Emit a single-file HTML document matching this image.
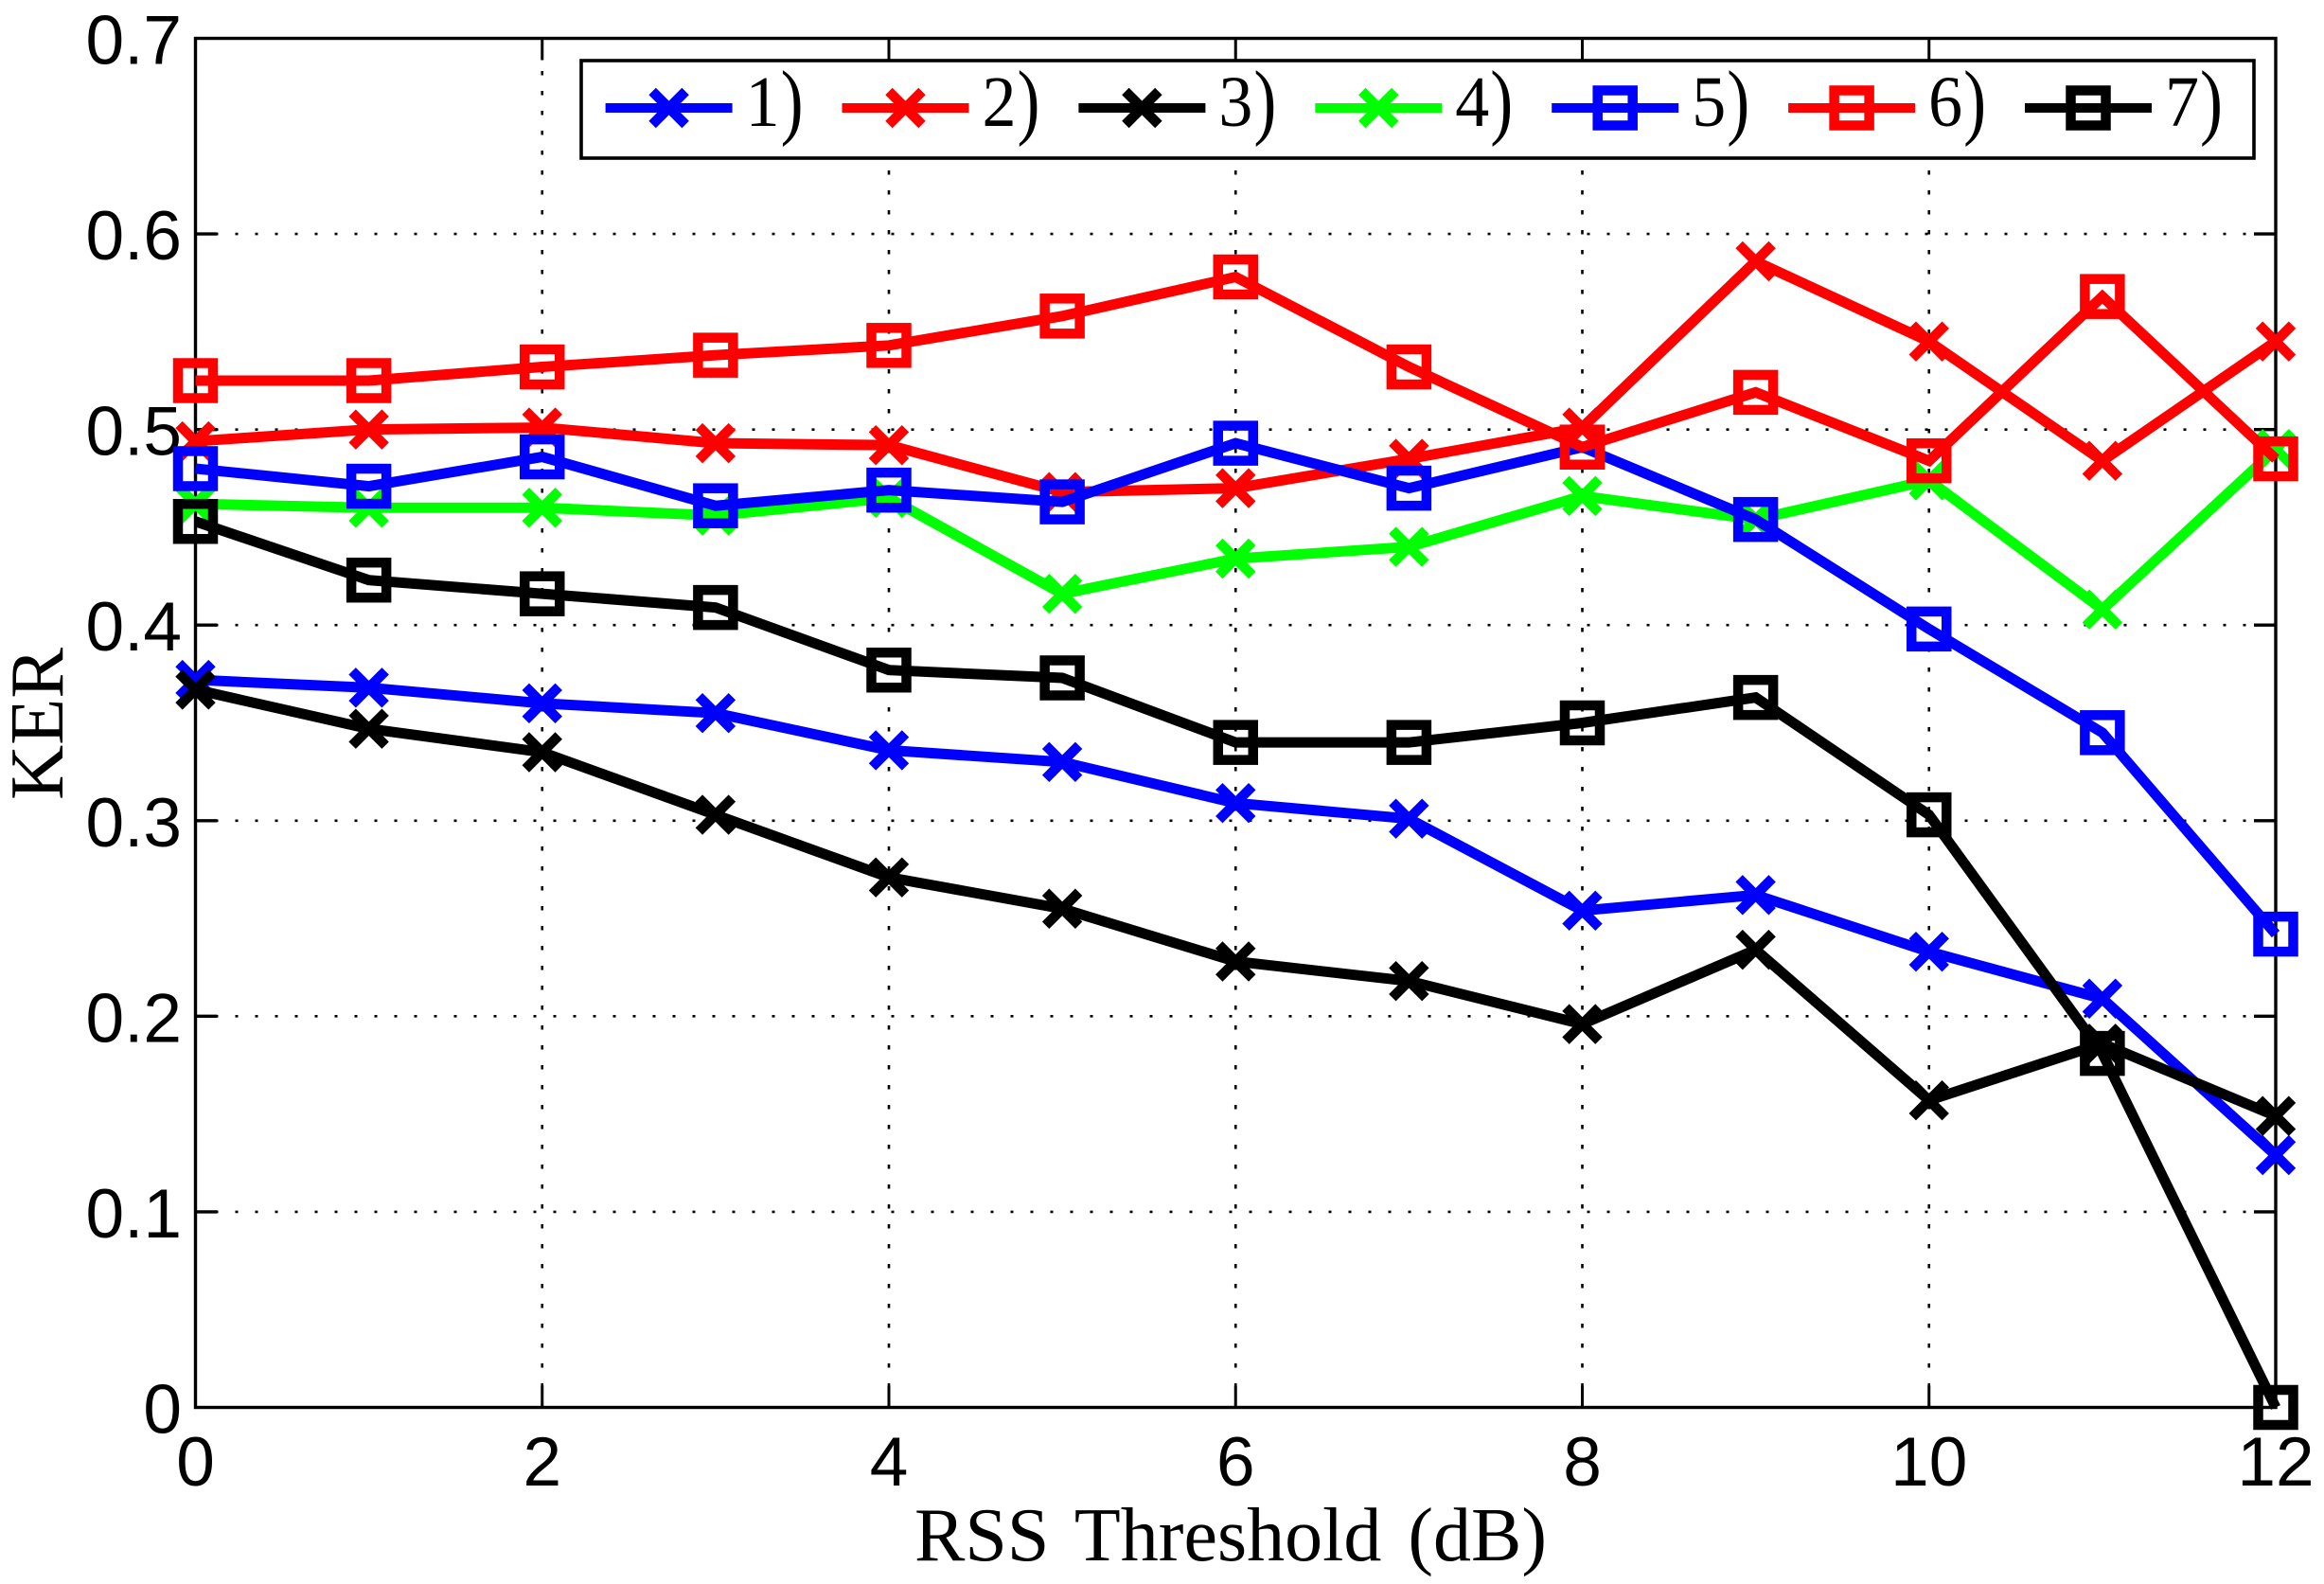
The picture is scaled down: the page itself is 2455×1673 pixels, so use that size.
<!DOCTYPE html>
<html lang="en">
<head>
<meta charset="utf-8">
<title>KER vs RSS Threshold</title>
<style>
html,body{margin:0;padding:0;background:#fff;}
svg{display:block;}
.tick-label{font-family:"Liberation Sans",sans-serif;font-size:73px;fill:#000;}
.axis-title{font-family:"Liberation Serif",serif;font-size:80px;fill:#000;}
.legend-text{font-family:"Liberation Serif",serif;fill:#000;}
</style>
</head>
<body>
<svg id="chart" xmlns="http://www.w3.org/2000/svg" width="2455" height="1673" viewBox="0 0 2455 1673">
  <rect x="0" y="0" width="2455" height="1673" fill="#fff"/>
  <g id="grid"></g>
  <g id="axes"></g>
  <g id="xticks"></g>
  <g id="yticks"></g>
  <text class="axis-title" x="966" y="1648" word-spacing="8" textLength="668" lengthAdjust="spacingAndGlyphs">RSS Threshold (dB)</text>
  <text class="axis-title" transform="translate(66,845) rotate(-90)" textLength="161" lengthAdjust="spacingAndGlyphs">KER</text>
  <g id="series"></g>
  <g id="legend"></g>
</svg>
<script>
const categories = [0,1,2,3,4,5,6,7,8,9,10,11,12];
const xTickValues = [0,2,4,6,8,10,12];
const xTickLabels = ["0","2","4","6","8","10","12"];
const yTickValues = [0,0.1,0.2,0.3,0.4,0.5,0.6,0.7];
const yTickLabels = ["0","0.1","0.2","0.3","0.4","0.5","0.6","0.7"];

const series1 = [0.372,0.368,0.360,0.355,0.336,0.330,0.309,0.301,0.254,0.262,0.233,0.209,0.129];
const series2 = [0.494,0.500,0.501,0.493,0.492,0.468,0.470,0.485,0.501,0.586,0.545,0.484,0.545];
const series3 = [0.367,0.347,0.335,0.303,0.271,0.255,0.228,0.218,0.196,0.234,0.157,0.186,0.149];
const series4 = [0.462,0.460,0.460,0.456,0.465,0.416,0.434,0.440,0.466,0.454,0.474,0.408,0.490];
const series5 = [0.480,0.471,0.486,0.461,0.469,0.463,0.493,0.470,0.491,0.454,0.398,0.345,0.242];
const series6 = [0.525,0.525,0.532,0.538,0.543,0.558,0.578,0.532,0.491,0.519,0.484,0.568,0.485];
const series7 = [0.453,0.423,0.416,0.409,0.377,0.373,0.340,0.340,0.350,0.363,0.303,0.181,0];
const seriesNames = ["1","2","3","4","5","6","7"];
const seriesValues = [series1,series2,series3,series4,series5,series6,series7];
const seriesColors = ["#0000ff","#ff0000","#000000","#00ff00","#0000ff","#ff0000","#000000"];
const seriesMarkers = ["x","x","x","x","s","s","s"];

const L = 206.5, R = 2404, T = 40.5, B = 1486.5;
const xMax = 12, yMax = 0.7;
const NS = "http://www.w3.org/2000/svg";
function xPos(v){ return L + (v / xMax) * (R - L); }
function yPos(v){ return B - (v / yMax) * (B - T); }
function make(tag, parent, attrs){
  const e = document.createElementNS(NS, tag);
  for (const k in attrs) e.setAttribute(k, attrs[k]);
  parent.appendChild(e);
  return e;
}
function drawMarker(parent, kind, cx, cy, color){
  if (kind === "x"){
    const h = 17.5;
    return make("path", parent, {d:"M"+(cx-h)+" "+(cy-h)+"L"+(cx+h)+" "+(cy+h)+"M"+(cx-h)+" "+(cy+h)+"L"+(cx+h)+" "+(cy-h), fill:"none", stroke:color, "stroke-width":10.5});
  }
  const s = 37;
  return make("rect", parent, {x:cx-s/2, y:cy-s/2, width:s, height:s, fill:"none", stroke:color, "stroke-width":10.5});
}

const gridG = document.getElementById("grid");
xTickValues.forEach(function(v){
  if (v === 0 || v === xMax) return;
  const ln = make("line", gridG, {x1:xPos(v), x2:xPos(v), y1:B, y2:T, stroke:"#000", "stroke-width":2.6, "stroke-dasharray":"4.5 16.5"});
  
  
});
yTickValues.forEach(function(v){
  if (v === 0 || v === yMax) return;
  const ln = make("line", gridG, {x1:L, x2:R, y1:yPos(v), y2:yPos(v), stroke:"#000", "stroke-width":2.6, "stroke-dasharray":"3 18"});
  
  
});

const axesG = document.getElementById("axes");
const frame = make("rect", axesG, {x:L, y:T, width:R-L, height:B-T, fill:"none", stroke:"#000", "stroke-width":3.4});


xTickValues.forEach(function(v){
  if (v === 0 || v === xMax) return;
  const a = make("line", axesG, {x1:xPos(v), x2:xPos(v), y1:B, y2:B-23, stroke:"#000", "stroke-width":3});
  
  
  const b = make("line", axesG, {x1:xPos(v), x2:xPos(v), y1:T, y2:T+23, stroke:"#000", "stroke-width":3});
  
  
});
yTickValues.forEach(function(v){
  if (v === 0 || v === yMax) return;
  const a = make("line", axesG, {x1:L, x2:L+23, y1:yPos(v), y2:yPos(v), stroke:"#000", "stroke-width":3.4});
  
  
  const b = make("line", axesG, {x1:R, x2:R-23, y1:yPos(v), y2:yPos(v), stroke:"#000", "stroke-width":3.4});
  
  
});

const xtG = document.getElementById("xticks");
xTickValues.forEach(function(v, i){
  const t = make("text", xtG, {x:xPos(v), y:1569, "text-anchor":"middle", class:"tick-label"});
  
  
  t.textContent = xTickLabels[i];
});
const ytG = document.getElementById("yticks");
yTickValues.forEach(function(v, i){
  const t = make("text", ytG, {x:192, y:yPos(v)+27, "text-anchor":"end", class:"tick-label"});
  
  
  t.textContent = yTickLabels[i];
});

const seriesG = document.getElementById("series");
seriesValues.forEach(function(vals, s){
  const g = make("g", seriesG, {});
  
  
  const pts = vals.map(function(v, i){ return xPos(categories[i]) + "," + yPos(v); }).join(" ");
  const line = make("polyline", g, {points:pts, fill:"none", stroke:seriesColors[s], "stroke-width":11, "stroke-linejoin":"miter", "stroke-miterlimit":4});
  
  
  vals.forEach(function(v, i){
    const m = drawMarker(g, seriesMarkers[s], xPos(categories[i]), yPos(v), seriesColors[s]);
    
    
  });
});

const legendG = document.getElementById("legend");
const box = make("rect", legendG, {x:614, y:64, width:1767, height:103, fill:"#fff", stroke:"#000", "stroke-width":3.6});


seriesNames.forEach(function(name, s){
  const cx = 706.6 + s * 249.9;
  const g = make("g", legendG, {});
  
  
  const ln = make("line", g, {x1:cx-67, x2:cx+67, y1:114, y2:114, stroke:seriesColors[s], "stroke-width":10});
  
  
  const m = drawMarker(g, seriesMarkers[s], cx, 114, seriesColors[s]);
  
  
  const t = make("text", g, {x:cx+81, y:133, class:"legend-text", "font-size":76, textLength:36, lengthAdjust:"spacingAndGlyphs"});
  
  
  t.textContent = name;
  const p = make("text", g, {x:cx+118, y:136, class:"legend-text", "font-size":89, textLength:24, lengthAdjust:"spacingAndGlyphs"});
  
  
  p.textContent = ")";
});
</script>
</body>
</html>
